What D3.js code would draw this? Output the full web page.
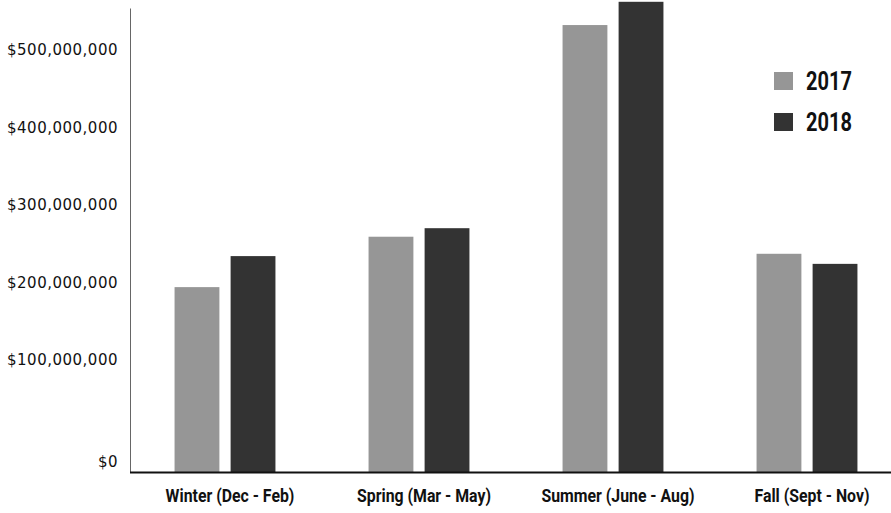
<!DOCTYPE html>
<html>
<head>
<meta charset="utf-8">
<script src="https://cdn.jsdelivr.net/npm/d3@7"></script>
<style>
  body { margin: 0; background: #fff; }
  svg { display: block; }
  .ytick text { font-family: "DejaVu Sans", sans-serif; font-size: 15px; letter-spacing: 0.5px; fill: #111; }
  .xtick text { font-family: "Roboto", sans-serif; font-weight: bold; font-size: 18px; fill: #111; }
  .legend text { font-family: "Roboto", sans-serif; font-weight: bold; font-size: 25px; fill: #111; }
</style>
</head>
<body>
<div id="container"></div>
<script>
/**
 * DATA
 * */
const seasons = ["Winter (Dec - Feb)", "Spring (Mar - May)", "Summer (June - Aug)", "Fall (Sept - Nov)"];
const years = ["2017", "2018"];
const values2017 = [194000000, 259000000, 532000000, 237000000];
const values2018 = [234000000, 270000000, 562000000, 224000000];
const yTicks = [0, 100000000, 200000000, 300000000, 400000000, 500000000];
const colors = ["#969696", "#333333"];

/**
 * CONSTANTS
 * */
const width = 891,
  height = 513,
  baseY = 472,
  leftX = 130;

const svg = d3.select("#container")
  .append("svg")
  .attr("width", width)
  .attr("height", height);

// the original axis gives the first step (0 -> 100M) more room than the others
const y = d3.scaleLinear()
  .domain([0, 100000000, 554000000])
  .range([baseY, 360, 8]);

const x0 = d3.scaleBand()
  .domain(seasons)
  .range([128, 904])
  .paddingInner(0.48)
  .paddingOuter(0.24);

const x1 = d3.scaleBand()
  .domain(years)
  .range([0, x0.bandwidth()])
  .paddingInner(0.2);

const rows = seasons.map((s, i) => ({ season: s, vals: [values2017[i], values2018[i]] }));

// bars
const groups = svg.selectAll(".grp")
  .data(rows)
  .join("g")
  .attr("class", "grp")
  .attr("transform", d => `translate(${x0(d.season)},0)`);

groups.selectAll("rect")
  .data(d => d.vals.map((v, j) => ({ year: years[j], v: v, j: j })))
  .join("rect")
  .attr("x", d => x1(d.year))
  .attr("y", d => y(d.v))
  .attr("width", x1.bandwidth())
  .attr("height", d => baseY - y(d.v))
  .attr("fill", d => colors[d.j]);

// y axis
const yAxis = svg.append("g")
  .attr("class", "ytick")
  .attr("transform", `translate(${leftX},0)`)
  .call(d3.axisLeft(y)
    .tickValues(yTicks)
    .tickSize(0)
    .tickPadding(12)
    .tickFormat(d => "$" + d3.format(",")(d)));
yAxis.select(".domain").attr("stroke", "#666").attr("stroke-width", 1);
yAxis.selectAll(".tick text").filter(d => d === 0).attr("dy", "-0.35em");

// x axis
const xAxis = svg.append("g")
  .attr("class", "xtick")
  .attr("transform", `translate(5,${baseY})`)
  .call(d3.axisBottom(x0).tickSize(0).tickPadding(17));
xAxis.select(".domain").remove();
xAxis.selectAll(".tick text").attr("transform", "scale(0.88,1)");
svg.append("line")
  .attr("x1", leftX).attr("x2", width)
  .attr("y1", baseY + 0.5).attr("y2", baseY + 0.5)
  .attr("stroke", "#111")
  .attr("stroke-width", 2);

// legend
const legend = svg.append("g")
  .attr("class", "legend")
  .attr("transform", "translate(774,72)");
const li = legend.selectAll("g")
  .data(years)
  .join("g")
  .attr("transform", (d, i) => `translate(0,${i * 41})`);
li.append("rect")
  .attr("width", 19)
  .attr("height", 18)
  .attr("fill", (d, i) => colors[i]);
li.append("text")
  .attr("transform", "translate(32,18) scale(0.8,1)")
  .text(d => d);
</script>
</body>
</html>
